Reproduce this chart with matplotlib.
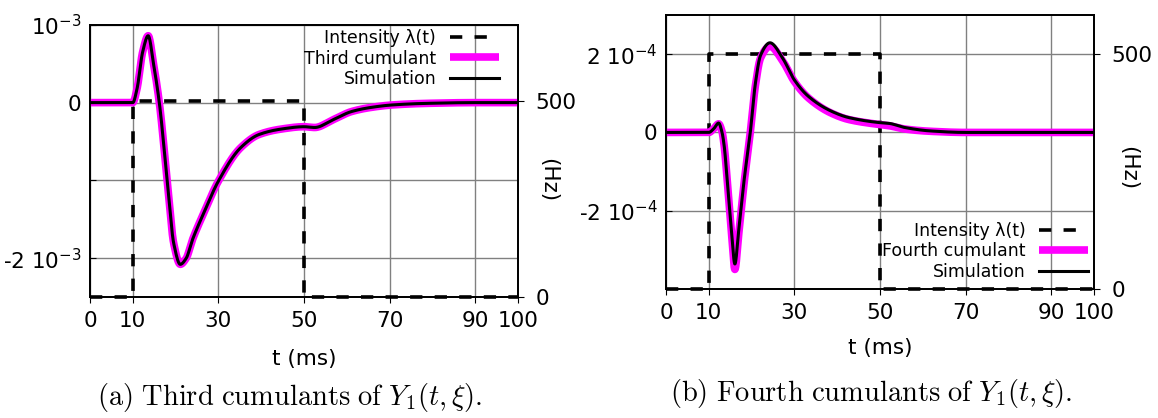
import numpy as np
import matplotlib
matplotlib.use("Agg")
import matplotlib.pyplot as plt

plt.rcParams['font.family'] = ['DejaVu Sans']
plt.rcParams['mathtext.fontset'] = 'dejavusans'

# intensity lambda(t), Hz
t_int = [0, 10, 10, 50, 50, 100]
lam = [0, 0, 500, 500, 0, 0]

# (a) third cumulant, units of 1e-3
t3 = [0, 9.5, 10, 11, 12.3, 13.6, 14.9, 16.2, 17.9, 19.6, 21.1, 22.5, 23.9, 26.5,
      30, 35.2, 39.5, 44.7, 50, 52.5, 56.8, 61.1, 65.4, 70.6, 78.4, 90, 100]
c3 = [0, 0, 0, 0.18, 0.65, 0.86, 0.48, 0.0, -0.92, -1.82, -2.08, -2.0, -1.77, -1.43,
      -1.01, -0.58, -0.41, -0.34, -0.31, -0.32, -0.22, -0.115, -0.064, -0.03, -0.01, 0, 0]

# (b) fourth cumulant, units of 1e-4
t4 = [0, 9.5, 10, 11.2, 12.3, 13.1, 13.6, 14.4, 15.3, 16.1, 17.0, 18.3, 19.7, 20.9,
      22.1, 24.3, 27.3, 30, 33.3, 38.5, 42.7, 50, 52.2, 55.6, 61.6, 70, 100]
c4_theory = [0, 0, 0, 0.1, 0.22, 0.02, -0.34, -1.34, -2.55, -3.5, -2.6, -1.25, 0, 1.2,
             1.9, 2.2, 1.82, 1.3, 0.88, 0.5, 0.33, 0.2, 0.17, 0.09, 0.03, 0, 0]
c4_sim = [0, 0, 0, 0.1, 0.24, 0.0, -0.34, -1.34, -2.5, -3.36, -2.5, -1.18, 0, 1.26,
          1.97, 2.29, 1.89, 1.34, 0.92, 0.55, 0.38, 0.25, 0.23, 0.13, 0.04, 0, 0]


def pchip(x, y, xn):
    # monotone cubic interpolation (Fritsch-Carlson), to get smooth curves
    x = np.asarray(x, float)
    y = np.asarray(y, float)
    h = np.diff(x)
    d = np.diff(y) / h
    m = np.zeros_like(y)
    for k in range(1, len(x) - 1):
        if d[k - 1] * d[k] > 0:
            w1 = 2 * h[k] + h[k - 1]
            w2 = h[k] + 2 * h[k - 1]
            m[k] = (w1 + w2) / (w1 / d[k - 1] + w2 / d[k])
    idx = np.clip(np.searchsorted(x, xn) - 1, 0, len(x) - 2)
    s = (xn - x[idx]) / h[idx]
    h00 = 2 * s**3 - 3 * s**2 + 1
    h10 = s**3 - 2 * s**2 + s
    h01 = -2 * s**3 + 3 * s**2
    h11 = s**3 - s**2
    return h00 * y[idx] + h10 * h[idx] * m[idx] + h01 * y[idx + 1] + h11 * h[idx] * m[idx + 1]


def panel(fig, rect, t, y_th, y_sim, scale, ylim, yticks, ylabels, r_top, label,
          legloc, anchor, hz_pos, xlab_pad):
    ax = fig.add_axes(rect)
    ax2 = ax.twinx()
    ax.set_xlim(0, 100)
    ax.set_ylim(*ylim)
    ax2.set_ylim(0, r_top)

    tt = np.linspace(0, 100, 2001)
    l1, = ax.plot(t_int, lam, color='black', lw=2.6, linestyle=(0, (3.4, 3.4)),
                  transform=ax2.transData, clip_on=False, zorder=2.5)
    l2, = ax.plot(tt, pchip(t, y_th, tt) * scale, color='#ff00ff', lw=5.5,
                  solid_capstyle='butt', zorder=3)
    l3, = ax.plot(tt, pchip(t, y_sim, tt) * scale, color='black', lw=2.2, zorder=4)

    ax.set_xticks([0, 10, 30, 50, 70, 90, 100])
    ax.set_yticks(yticks)
    ax.set_yticklabels(ylabels)
    ax2.set_yticks([0, 500])
    ax.tick_params(axis='x', direction='out', length=4, labelsize=15.5, pad=6, top=False)
    ax.tick_params(axis='y', direction='in', length=4, labelsize=15.5, pad=6)
    ax2.tick_params(axis='y', direction='out', length=4.5, labelsize=15.5, pad=8)
    ax.grid(True, color='#808080', lw=1.0)
    ax.set_axisbelow(True)
    for a in (ax, ax2):
        for s in a.spines.values():
            s.set_linewidth(1.3)
    ax.set_xlabel('t (ms)', fontsize=15.5, labelpad=xlab_pad)
    ax2.set_ylabel('(Hz)', fontsize=15.5, rotation=270, va='center')
    ax2.yaxis.set_label_coords(hz_pos[0], hz_pos[1])

    ax.legend([l1, l2, l3], ['Intensity λ(t)', label, 'Simulation'],
              loc=legloc, bbox_to_anchor=anchor, frameon=False, fontsize=12.5,
              markerfirst=False, handlelength=2.8, handletextpad=0.8,
              labelspacing=0.15, borderpad=0, borderaxespad=0)
    return ax


fig = plt.figure(figsize=(11.58, 4.18), dpi=100)

panel(fig, [0.0777, 0.2895, 0.3696, 0.651], t3, c3, c3, 1e-3,
      (-2.5e-3, 1e-3), [1e-3, 0, -1e-3, -2e-3],
      ['10$^{-3}$', '0', '', '-2 10$^{-3}$'], 694,
      'Third cumulant', 'upper right', (0.955, 0.985), (1.07, 0.43), 13)

panel(fig, [0.5751, 0.3086, 0.3696, 0.6555], t4, c4_theory, c4_sim, 1e-4,
      (-4e-4, 3e-4), [2e-4, 0, -2e-4],
      ['2 10$^{-4}$', '0', '-2 10$^{-4}$'], 583,
      'Fourth cumulant', 'lower right', (0.986, 0.03), (1.08, 0.44), 11)

fig.text(0.250, 0.050, r'$\mathrm{(a)\ Third\ cumulants\ of\ }Y_1(t,\xi).$',
         ha='center', va='center', fontsize=20.5, math_fontfamily='cm')
fig.text(0.752, 0.058, r'$\mathrm{(b)\ Fourth\ cumulants\ of\ }Y_1(t,\xi).$',
         ha='center', va='center', fontsize=20.5, math_fontfamily='cm')

fig.savefig('out.png', dpi=100)
